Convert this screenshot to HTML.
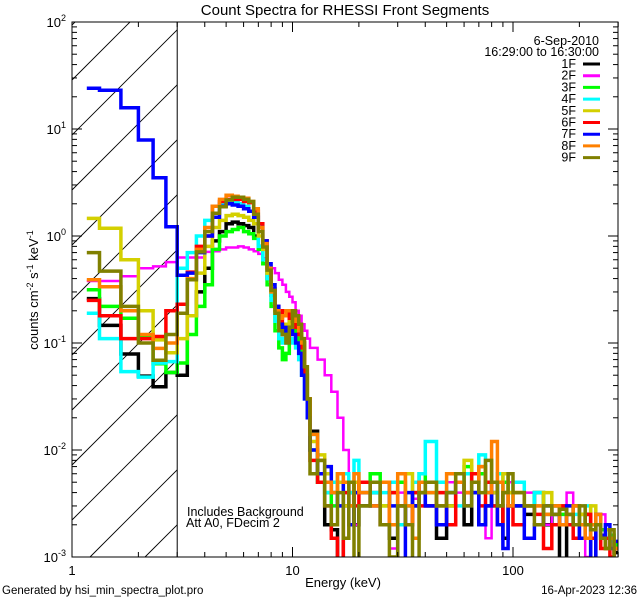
<!DOCTYPE html>
<html><head><meta charset="utf-8"><style>
html,body{margin:0;padding:0;background:#fff;width:640px;height:600px;overflow:hidden;}
svg{display:block;font-family:"Liberation Sans",sans-serif;}
</style></head><body>
<svg id="chart" width="640" height="600" viewBox="0 0 640 600" xmlns="http://www.w3.org/2000/svg" overflow="hidden">
<defs><clipPath id="pc"><rect x="72" y="22" width="546" height="535"/></clipPath></defs>
<rect x="0" y="0" width="640" height="600" fill="#fff"/>
<text x="345" y="15" text-anchor="middle" font-size="15">Count Spectra for RHESSI Front Segments</text>
<g id="hatch"></g>
<g id="series" clip-path="url(#pc)"></g>
<g id="axes"></g>
<text x="187" y="516" font-size="12.5">Includes Background</text>
<text x="186" y="527" font-size="12.5">Att A0, FDecim 2</text>
<text x="599" y="45" text-anchor="end" font-size="12.5">6-Sep-2010</text>
<text x="599" y="56" text-anchor="end" font-size="12.5">16:29:00 to 16:30:00</text>
<g id="legend"></g>
<text x="343" y="587" text-anchor="middle" font-size="13">Energy (keV)</text>
<text transform="translate(38,290) rotate(-90)" text-anchor="middle" font-size="13">counts cm<tspan dy="-5" font-size="9">-2</tspan><tspan dy="5"> s</tspan><tspan dy="-5" font-size="9">-1</tspan><tspan dy="5"> keV</tspan><tspan dy="-5" font-size="9">-1</tspan></text>
<text x="2" y="594" font-size="11.5">Generated by hsi_min_spectra_plot.pro</text>
<text x="637" y="594" text-anchor="end" font-size="11.5">16-Apr-2023 12:36</text>
</svg>
<script>
const segNames = ["1F","2F","3F","4F","5F","6F","7F","8F","9F"];
const segColors = ["#000000","#ff00ff","#00ff00","#00ffff","#d4d000","#ff0000","#0000ff","#ff8000","#808000"];
const lowEdges = [1.1667,1.3333,1.6667,2,2.3333,2.6667,3];
const tailEdges = [12,13,14,15,16,17,18,19,20,22.5,25,27.5,30,32.5,35,37.5,40,45,50,55,60,65,70,75,80,85,90,95,100,112.5,125,137.5,150,162.5,175,187.5,200,212.5,225,237.5,250,262.5,275,287.5,300];
const lowVals = [
 [0.26,0.146,0.079,0.049,0.039,0.053],
 [0.38,0.38,0.42,0.50,0.52,0.57],
 [0.315,0.22,0.17,0.115,0.064,0.053],
 [0.19,0.11,0.054,0.048,0.065,0.067],
 [1.46,1.18,0.60,0.20,0.107,0.081],
 [0.25,0.18,0.11,0.11,0.115,0.20],
 [24,23,15.8,7.9,3.5,1.22],
 [0.39,0.335,0.20,0.12,0.089,0.10],
 [0.70,0.47,0.22,0.10,0.069,0.12]];
const peakVals = [
 [0.05,0.18,0.3,0.5,0.9,1.1,1.3,1.35,1.3,1.25,1.2,1.0,0.8,0.6,0.4,0.28,0.2,0.14,0.12,0.15,0.18,0.16,0.14,0.12,0.1,0.06,0.03],
 [0.63,0.63,0.63,0.71,0.72,0.75,0.78,0.78,0.8,0.78,0.75,0.72,0.68,0.62,0.55,0.5,0.45,0.39,0.35,0.3,0.27,0.24,0.2,0.18,0.15,0.13,0.11],
 [0.065,0.12,0.22,0.35,0.75,1.0,1.1,1.15,1.2,1.1,1.05,0.95,0.75,0.55,0.35,0.22,0.13,0.09,0.07,0.08,0.15,0.14,0.12,0.1,0.08,0.05,0.03],
 [0.5,0.7,1.0,1.4,1.9,2.0,2.05,2.05,2.0,1.9,1.7,1.3,0.8,0.6,0.4,0.25,0.16,0.11,0.1,0.12,0.11,0.1,0.09,0.07,0.05,0.03,0.02],
 [0.11,0.18,0.45,0.8,1.2,1.4,1.55,1.6,1.55,1.5,1.4,1.3,1.0,0.75,0.45,0.3,0.2,0.15,0.13,0.15,0.2,0.18,0.15,0.12,0.09,0.05,0.03],
 [0.23,0.46,0.8,1.0,1.9,2.1,2.2,2.2,2.2,2.1,2.05,1.7,1.3,0.9,0.5,0.32,0.22,0.15,0.2,0.2,0.17,0.16,0.14,0.12,0.09,0.05,0.03],
 [0.43,0.45,0.7,1.0,1.5,1.9,2.0,1.95,1.9,1.8,1.7,1.5,1.2,0.9,0.55,0.35,0.22,0.15,0.13,0.14,0.13,0.12,0.1,0.08,0.05,0.03,0.02],
 [0.19,0.4,0.75,1.2,1.9,2.2,2.4,2.35,2.3,2.25,2.1,1.8,1.2,0.85,0.5,0.3,0.2,0.17,0.18,0.2,0.2,0.18,0.16,0.13,0.1,0.06,0.03],
 [0.19,0.39,0.71,1.1,1.63,1.88,2.17,2.3,2.3,2.2,2.1,1.6,1.1,0.79,0.48,0.31,0.19,0.13,0.12,0.1,0.14,0.2,0.18,0.15,0.11,0.06,0.03]];
const tailValsE3 = [
 [15,5,2,1.8,0.8,3,4,2, 3,4,2,1.5,3,2,3,4, 3,1.5,3,5,2,4,2,3,4,3,1.5,3, 3,2.5,4,2,3,0.8,2.5,3,2,2.5,0.7,2,1.8,1.2,1.5,1.1],
 [90,70,50,35,20,10,4,2, 3,5,4,1.2,4,3,3.5,4, 4,3,5,4,3,6,3,1.5,4,3,4,5, 3,4,3,2,3,3,4,2,3,1,2,2.5,2.5,1.5,1.5,1.2],
 [10,5,4,3,6,4,3,4, 5,6,3,4,5,3,4,6, 4,3,4,5,7,4,6,4,3,3,5,4, 3,3,4,2.5,3,2.5,3,2,2.5,2,2,2,1.8,1.5,1.6,1.3],
 [14,8,4,5,3,6,4,8, 5,4,4,5,2,3,5,6, 12,5,4,3,6,5,9,4,3,6,4,3, 5,3,4,3,2.5,3,2,2.5,2,3,2,2,1.5,1.8,1.4,1.2],
 [12,9,6,4,5,3,3,5, 4,5,3,4,3,6,4,5, 5,4,3,6,8,5,7,5,4,5,6,4, 4,3,3,4,2.5,3,2.5,2,2.5,2,3,2,1.5,1.8,1.5,1.2],
 [8,5,3,1.5,0.8,4,5,3, 5,3,2,4,3,2,4,3, 3,4,2,5,4,6,3,5,3,2,4,3, 2,3,2.5,1.2,2,3,2,1.5,2,2.5,1.5,2,1.2,1.5,1,1.2],
 [10,6,7,4,3,5,2,4, 4,3,5,3,0.7,4,3,5, 3,2,4,5,3,4,2,3,5,2,1.2,3, 3,1.5,2,3,2.5,2,3,2,1.5,2,0.8,2.5,1.6,2,1.2,1.4],
 [14,8,5,4,6,5,3,6, 4,3,5,2,6,3,1.5,5, 4,3,6,5,4,5,7,4,12,5,4,3, 4,3,3,2.5,3,2,2.5,3,2,1.5,2,2.5,1.5,1.2,1.5,1.2],
 [6,8,3,2,4,1.5,5,0.8, 3,5,2,1,3,2,0.6,4, 5,3,4,6,3,5,4,8,5,3,4,6, 4,3,2,3,2.5,2.8,2.5,2,3,2,1.8,2,1.5,1.2,1.8,0.9]];
const yTickExps = [-3,-2,-1,0,1,2];
const xTickVals = [1,10,100];
const xTickLabels = ["1","10","100"];

const NS = "http://www.w3.org/2000/svg";
const L = 72, R = 618, T = 22, B = 557;
const X = e => L + 220.5 * Math.log10(e);
// clamp to just below the plot floor so marks never extend outside the frame
const Y = v => Math.min(T + 107 * (2 - Math.log10(Math.max(v, 1e-5))), B + 8);
function mk(tag, attrs, parent){ const el=document.createElementNS(NS,tag); for(const k in attrs) el.setAttribute(k,attrs[k]); parent.appendChild(el); return el; }

const peakEdges = [];
for(let k=0;k<=27;k++) peakEdges.push(3 + k/3);
const edges = lowEdges.slice(0,-1).concat(peakEdges.slice(0,-1)).concat(tailEdges);

// hatch lines clipped manually to the 1-3 keV region
const hatch = document.getElementById('hatch');
const HX1 = X(3);
for(let b = 25; b < 700; b += 55){
  // line: y = b - (x - L)
  const xa = Math.max(L, L + b - B), xb = Math.min(HX1, L + b - T);
  if(xb <= xa) continue;
  const ln = mk('line',{x1:xa.toFixed(1),y1:(b-(xa-L)).toFixed(1),x2:xb.toFixed(1),y2:(b-(xb-L)).toFixed(1),stroke:'#000','stroke-width':0.9},hatch);
  
  
}

const sg = document.getElementById('series');
segNames.forEach((nm,i)=>{
  const vals = lowVals[i].concat(peakVals[i]).concat(tailValsE3[i].map(v=>v/1000));
  let d = '';
  for(let j=0;j<vals.length;j++){
    const x0 = X(edges[j]).toFixed(1), x1 = X(edges[j+1]).toFixed(1), y = Y(vals[j]).toFixed(1);
    d += (j===0 ? 'M'+x0+','+y : 'V'+y) + 'H'+x1;
  }
  const p = mk('path',{d:d,fill:'none',stroke:segColors[i],'stroke-width':(i===1?2.5:3.5),'stroke-linejoin':'miter'},sg);
  
  
});

const ax = document.getElementById('axes');
const frame = mk('rect',{x:L,y:T,width:R-L,height:B-T,fill:'none',stroke:'#000','stroke-width':1},ax);


const v3 = mk('line',{x1:X(3),y1:T,x2:X(3),y2:B,stroke:'#000','stroke-width':1},ax);


yTickExps.forEach(ex=>{
  const y = Y(Math.pow(10,ex));
  mk('line',{x1:L,y1:y,x2:L+10,y2:y,stroke:'#000'},ax);
  mk('line',{x1:R,y1:y,x2:R-10,y2:y,stroke:'#000'},ax);
  const t = mk('text',{x:L-6,y:y+5,'text-anchor':'end','font-size':13},ax);
  
  
  t.innerHTML = '10<tspan dy="-6" font-size="9">'+ex+'</tspan>';
  if(ex<2) for(let m=2;m<=9;m++){
    const ym = Y(m*Math.pow(10,ex));
    mk('line',{x1:L,y1:ym,x2:L+5,y2:ym,stroke:'#000'},ax);
    mk('line',{x1:R,y1:ym,x2:R-5,y2:ym,stroke:'#000'},ax);
  }
});
xTickVals.forEach((v,i)=>{
  const x = X(v);
  mk('line',{x1:x,y1:B,x2:x,y2:B-10,stroke:'#000'},ax);
  mk('line',{x1:x,y1:T,x2:x,y2:T+10,stroke:'#000'},ax);
  const t = mk('text',{x:x,y:B+18,'text-anchor':'middle','font-size':13},ax);
  
  
  t.textContent = xTickLabels[i];
  for(let m=2;m<=9;m++){
    const e = m*v; if(e>300) break;
    const xm = X(e);
    mk('line',{x1:xm,y1:B,x2:xm,y2:B-5,stroke:'#000'},ax);
    mk('line',{x1:xm,y1:T,x2:xm,y2:T+5,stroke:'#000'},ax);
  }
});

const lg = document.getElementById('legend');
segNames.forEach((nm,i)=>{
  const y = 64 + i*11.7;
  const t = mk('text',{x:576,y:y+4,'text-anchor':'end','font-size':12.5},lg);
  
  
  t.textContent = nm;
  const l = mk('line',{x1:583,y1:y,x2:600,y2:y,stroke:segColors[i],'stroke-width':3},lg);
  
  
});
</script>
</body></html>
